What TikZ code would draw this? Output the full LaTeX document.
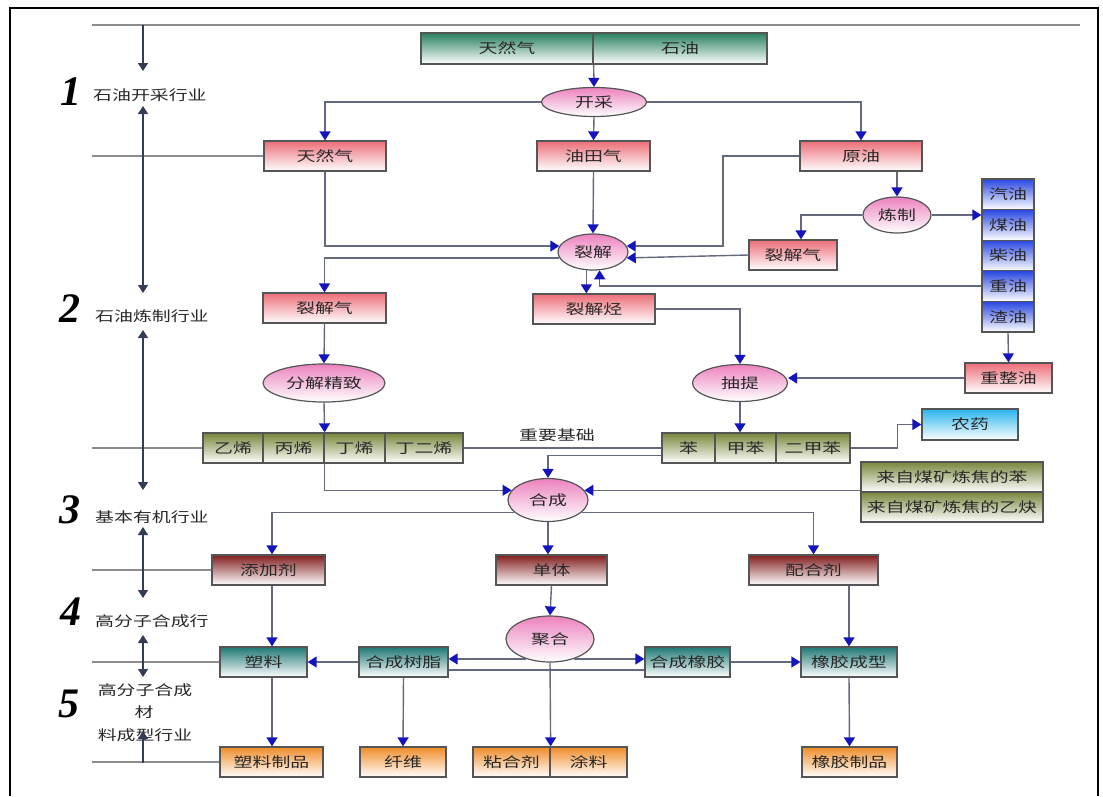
\documentclass[tikz,border=0pt]{standalone}
\usepackage{fontspec}
\newfontfamily\cjk[FakeStretch=1.35]{Noto Sans CJK SC}
\newfontfamily\numfont{Liberation Serif}
\usepackage{tikz}
\usetikzlibrary{arrows.meta, positioning, calc, shapes.geometric}

\definecolor{linegray}{RGB}{100,105,125}
\definecolor{arrowblue}{RGB}{20,20,190}
\definecolor{boxline}{RGB}{85,85,85}
\definecolor{guidegray}{RGB}{140,140,140}
\definecolor{axiscol}{RGB}{50,60,85}
\definecolor{textdark}{RGB}{40,40,40}
\definecolor{pinktop}{RGB}{236,110,120}
\definecolor{pinkmid}{RGB}{246,195,200}
\definecolor{ellpink}{RGB}{236,130,190}
\definecolor{greentop}{RGB}{40,130,95}
\definecolor{olivetop}{RGB}{120,135,60}
\definecolor{bluetop}{RGB}{40,70,225}
\definecolor{cyantop}{RGB}{40,180,235}
\definecolor{maroontop}{RGB}{130,30,30}
\definecolor{tealtop}{RGB}{30,120,115}
\definecolor{orangetop}{RGB}{240,140,40}

\begin{document}
\begin{tikzpicture}[x=1pt, y=-1pt,
    box/.style={draw=boxline, line width=1.3pt, inner sep=0pt, minimum height=30pt,
        font=\cjk\fontsize{14}{16}\selectfont, text=textdark},
    pinkbox/.style={box, top color=pinktop, middle color=pinkmid, bottom color=white},
    greenbox/.style={box, top color=greentop, bottom color=white},
    olivebox/.style={box, top color=olivetop, bottom color=white},
    bluebox/.style={box, top color=bluetop, bottom color=white},
    cyanbox/.style={box, top color=cyantop, bottom color=white},
    maroonbox/.style={box, top color=maroontop, bottom color=white},
    tealbox/.style={box, top color=tealtop, bottom color=white},
    orangebox/.style={box, top color=orangetop, bottom color=white},
    proc/.style={ellipse, draw=boxline, line width=1.2pt, inner sep=0pt,
        top color=ellpink, bottom color=white, text=textdark,
        font=\cjk\fontsize{14}{16}\selectfont},
    lvl/.style={inner sep=0pt, text=textdark, font=\cjk\fontsize{14}{16}\selectfont},
    num/.style={inner sep=0pt, font=\numfont\fontsize{42}{42}\selectfont\bfseries\itshape},
    flow/.style={draw=linegray, line width=1.4pt, -{Triangle[width=11pt,length=9pt,color=arrowblue]}},
    link/.style={draw=linegray, line width=1.4pt},
    guide/.style={draw=guidegray, line width=2pt},
    axdown/.style={draw=axiscol, line width=1.4pt, -{Triangle[width=10pt,length=8pt]}},
    axup/.style={draw=axiscol, line width=1.4pt, {Triangle[width=10pt,length=8pt]}-},
    axboth/.style={draw=axiscol, line width=1.4pt, {Triangle[width=10pt,length=8pt]}-{Triangle[width=10pt,length=8pt]}}
]
\useasboundingbox (0,0) rectangle (1103,796);
\draw[line width=2.2pt] (10,796) -- (10,8) -- (1098,8) -- (1098,796);

\coordinate (margin) at (92,0);
\coordinate (topL) at (92,25);
\coordinate (topR) at (1080,25);
\coordinate (bendA) at (723,200);
\coordinate (colA) at (272,0);

% sources
\node[greenbox, minimum width=172pt, minimum height=31pt] (srcGas) at (507,48.5) {天然气};
\node[greenbox, minimum width=174pt, minimum height=31pt] (srcOil) at (680,48.5) {石油};
\node[proc, minimum width=105pt, minimum height=29pt] (mine) at (594,102) {开采};

\node[pinkbox, minimum width=122pt] (gasA) at (325,156) {天然气};
\node[pinkbox, minimum width=113pt] (fieldgas) at (593.5,156) {油田气};
\node[pinkbox, minimum width=122pt] (crude) at (861,156) {原油};

\node[proc, minimum width=70pt, minimum height=36pt] (crack) at (593,252) {裂解};
\node[proc, minimum width=68pt, minimum height=36pt] (refine) at (897,215) {炼制};
\node[pinkbox, minimum width=88pt] (crackgasR) at (793,255) {裂解气};

% fuels
\node[bluebox, minimum width=52pt, minimum height=30.6pt] (fuel1) at (1008,194.3) {汽油};
\node[bluebox, minimum width=52pt, minimum height=30.6pt] (fuel2) at (1008,224.9) {煤油};
\node[bluebox, minimum width=52pt, minimum height=30.6pt] (fuel3) at (1008,255.5) {柴油};
\node[bluebox, minimum width=52pt, minimum height=30.6pt] (fuel4) at (1008,286.1) {重油};
\node[bluebox, minimum width=52pt, minimum height=30.6pt] (fuel5) at (1008,316.7) {渣油};

\node[pinkbox, minimum width=123pt] (crackgasL) at (324.5,308) {裂解气};
\node[pinkbox, minimum width=122pt] (crackhc) at (594,309) {裂解烃};
\node[proc, minimum width=122pt, minimum height=38pt] (separate) at (324,383) {分解精致};
\node[proc, minimum width=95pt, minimum height=37pt] (extract) at (740,383) {抽提};
\node[pinkbox, minimum width=87pt] (reform) at (1008.5,378) {重整油};

% basic feedstocks
\node[olivebox, minimum width=60pt] (ethylene) at (233,448) {乙烯};
\node[olivebox, minimum width=61pt] (propylene) at (293.5,448) {丙烯};
\node[olivebox, minimum width=61pt] (butylene) at (354.5,448) {丁烯};
\node[olivebox, minimum width=78pt] (butadiene) at (424,448) {丁二烯};
\node[lvl] (basis) at (557,435) {重要基础};
\node[olivebox, minimum width=53pt] (benzene) at (688.5,448) {苯};
\node[olivebox, minimum width=61pt] (toluene) at (745.5,448) {甲苯};
\node[olivebox, minimum width=74pt] (xylene) at (813,448) {二甲苯};
\node[cyanbox, minimum width=96pt, minimum height=31pt] (pesticide) at (970,424.5) {农药};
\node[olivebox, minimum width=182pt] (coalBenz) at (952,477) {来自煤矿炼焦的苯};
\node[olivebox, minimum width=182pt] (coalAcet) at (952,507) {来自煤矿炼焦的乙炔};

\node[proc, minimum width=80pt, minimum height=43pt] (synth) at (548,500) {合成};
\node[maroonbox, minimum width=113pt] (additive) at (268.5,570) {添加剂};
\node[maroonbox, minimum width=111pt] (monomer) at (551.5,570) {单体};
\node[maroonbox, minimum width=129pt] (compound) at (813.5,570) {配合剂};

\node[proc, minimum width=88pt, minimum height=46pt] (polym) at (550,639) {聚合};
\node[tealbox, minimum width=87pt] (plastic) at (263.5,662) {塑料};
\node[tealbox, minimum width=89pt] (resin) at (403.5,662) {合成树脂};
\node[tealbox, minimum width=85pt] (rubber) at (687.5,662) {合成橡胶};
\node[tealbox, minimum width=96pt] (rubmold) at (849,662) {橡胶成型};

\node[orangebox, minimum width=103pt] (plasticprod) at (271.5,762) {塑料制品};
\node[orangebox, minimum width=86pt] (fiber) at (403,762) {纤维};
\node[orangebox, minimum width=77pt] (adhesive) at (511.5,762) {粘合剂};
\node[orangebox, minimum width=77pt] (coating) at (588.5,762) {涂料};
\node[orangebox, minimum width=95pt] (rubprod) at (849.5,762) {橡胶制品};

% industry levels
\node[num] (n1) at (71,92) {1};
\node[lvl, anchor=west] (t1) at (93,95) {石油开采行业};
\node[num] (n2) at (70,309) {2};
\node[lvl, anchor=west] (t2) at (95,316) {石油炼制行业};
\node[num] (n3) at (70,510) {3};
\node[lvl, anchor=west] (t3) at (95,517) {基本有机行业};
\node[num] (n4) at (71,612) {4};
\node[lvl, anchor=west] (t4) at (95,621) {高分子合成行};
\node[num] (n5) at (69,704) {5};
\node[lvl] (t5a) at (145,690) {高分子合成};
\node[lvl] (t5b) at (144,712) {材};
\node[lvl] (t5c) at (145,735) {料成型行业};

% guide lines
\draw[guide] (topL) -- (topR);
\draw[guide] (gasA.west -| margin) -- (gasA.west);
\draw[guide] (ethylene.west -| margin) -- (ethylene.west);
\draw[guide] (additive.west -| margin) -- (additive.west);
\draw[guide] (plastic.west -| margin) -- (plastic.west);
\draw[guide] (plasticprod.west -| margin) -- (plasticprod.west);

% level axis
\coordinate (a0) at (143,25);
\coordinate (a1) at (143,71);
\coordinate (a2) at (143,106);
\coordinate (a3) at (143,293);
\coordinate (a4) at (143,330);
\coordinate (a5) at (143,490);
\coordinate (a6) at (143,527);
\coordinate (a7) at (143,598);
\coordinate (a8) at (143,635);
\coordinate (a9) at (143,677);
\coordinate (a10) at (143,731);
\coordinate (a11) at (143,763);
\draw[axdown] (a0) -- (a1);
\draw[axboth] (a2) -- (a3);
\draw[axboth] (a4) -- (a5);
\draw[axboth] (a6) -- (a7);
\draw[axboth] (a8) -- (a9);
\draw[axup] (a10) -- (a11);

% extraction
\draw[flow] (srcGas.south east) -- (mine.north);
\draw[flow] (mine.west) -| (gasA.north);
\draw[flow] (mine.south) -- (fieldgas.north);
\draw[flow] (mine.east) -| (crude.north);

% refining
\draw[flow] (gasA.south) |- (crack.170);
\draw[flow] (fieldgas.south) -- (crack.north);
\draw[flow] (crude.west) -| (bendA) |- (crack.10);
\draw[flow] (crude.south -| refine.north) -- (refine.north);
\draw[flow] (refine.west) -| ([xshift=8pt]crackgasR.north);
\draw[flow] (refine.east) -- (refine.east -| fuel2.west);
\draw[flow] (crackgasR.west) -- (crack.350);
\draw[flow] (fuel4.west) -| (crack.290);
\draw[flow] (crack.250) -- (crack.250 |- crackhc.north);
\draw[flow] (crack.190) -| (crackgasL.north);
\draw[flow] (crackgasL.south) -- (separate.north);
\draw[flow] (crackhc.east) -| (extract.north);
\draw[flow] (fuel5.south) -- (reform.north);
\draw[flow] (reform.west) -- (reform.west -| extract.east);
\draw[flow] (extract.south) -- (extract.south |- toluene.north);
\draw[flow] (separate.south) -- (propylene.north east);

% basic organics
\draw[flow] (propylene.south east) |- (synth.165);
\draw[link] (butadiene.east) -- (benzene.west);
\draw[flow] (benzene.195) -| (synth.north);
\draw[flow] (xylene.east) -- ++(47,0) |- (pesticide.west);
\draw[flow] (synth.15 -| coalBenz.west) -- (synth.15);
\draw[flow] (synth.200) -| (additive.north -| colA);
\draw[flow] (synth.340) -| (compound.north);
\draw[flow] (synth.south) -- (synth.south |- monomer.north);

% polymers
\draw[flow] (monomer.south) -- (polym.north);
\draw[flow] (additive.south -| colA) -- (plastic.north -| colA);
\draw[flow] (compound.south -| rubmold.north) -- (rubmold.north);
\draw[flow] (polym.220) -- (polym.220 -| resin.east);
\draw[flow] (polym.320) -- (polym.320 -| rubber.west);
\draw[flow] (resin.west) -- (plastic.east);
\draw[link] ($(resin.east)+(0,8)$) -- ($(rubber.west)+(0,8)$);
\draw[flow] (polym.south) -- (adhesive.north east);
\draw[flow] (rubber.east) -- (rubmold.west);

% products
\draw[flow] (plastic.south -| colA) -- (plasticprod.north -| colA);
\draw[flow] (resin.south) -- (fiber.north);
\draw[flow] (rubmold.south) -- (rubprod.north);
\end{tikzpicture}
\end{document}
